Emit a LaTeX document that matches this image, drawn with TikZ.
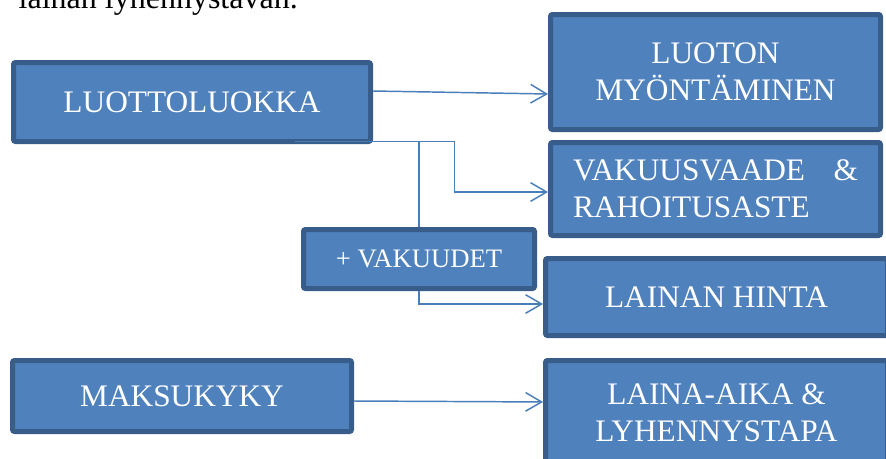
\documentclass[tikz,border=0pt]{standalone}
\usepackage{fontspec}
\setmainfont{Liberation Serif}
\usetikzlibrary{arrows.meta}
\definecolor{sininen}{HTML}{4F81BD}
\definecolor{tummasininen}{HTML}{385D8A}
\definecolor{viivavari}{HTML}{4A7EBB}
\begin{document}
\begin{tikzpicture}[x=0.75pt,y=-0.75pt,
  laatikko/.style={fill=sininen,draw=tummasininen,line width=3.75pt,rounded corners=1.5pt,
    text=white,align=center,inner sep=0pt,font=\fontsize{23.5}{28}\selectfont},
  yhteys/.style={draw=viivavari,line width=1.1pt},
  nuoli/.style={yhteys,-{Straight Barb[length=12pt,width=14pt]}}]
\useasboundingbox (0,0) rectangle (886,458);
\clip (0,0) rectangle (886,458);
   \node[anchor=base west,font=\fontsize{24}{29}\selectfont] (saate) at (14,8) {lainan lyhennystavan.};
   \node[laatikko,minimum width=267.75pt,minimum height=59.25pt] (luokka) at (192,102) {LUOTTOLUOKKA};
   \node[laatikko,minimum width=247.5pt,minimum height=86.25pt] (myonto) at (715.5,72) {LUOTON\\MYÖNTÄMINEN};
   \node[laatikko,align=left,text width=213.75pt,minimum width=247.5pt,minimum height=69.75pt] (vaade) at (715.5,189) {VAKUUSVAADE\hspace{\fill}\&\\RAHOITUSASTE};
   \node[laatikko,font=\fontsize{20}{24}\selectfont,minimum width=173.25pt,minimum height=44.25pt] (vakuudet) at (419,259) {+ VAKUUDET};
   \node[laatikko,minimum width=256.5pt,minimum height=57.75pt] (hinta) at (716.5,297) {LAINAN HINTA};
   \node[laatikko,minimum width=256.5pt,minimum height=78pt] (aika) at (716.5,412.5) {LAINA-AIKA \&\\LYHENNYSTAPA};
   \node[laatikko,minimum width=254.25pt,minimum height=53.25pt] (maksu) at (182,396) {MAKSUKYKY};
\coordinate (haara) at ([shift={(77pt,1.9pt)}]luokka.south);
\begin{scope}[nuoli]
   \draw ([yshift=8.25pt]luokka.east) -- ([yshift=-16.5pt]myonto.west);
   \draw (haara) -- ++(120pt,0pt) |- ([yshift=-2.25pt]vaade.west);
   \draw (vakuudet.south) |- ([yshift=-5.25pt]hinta.west);
   \draw ([yshift=-3.75pt]maksu.east) -- ([yshift=7.9pt]aika.west);
\end{scope}
   \draw[yhteys] (vakuudet.north) -- (vakuudet.north |- haara);
\end{tikzpicture}
\end{document}
